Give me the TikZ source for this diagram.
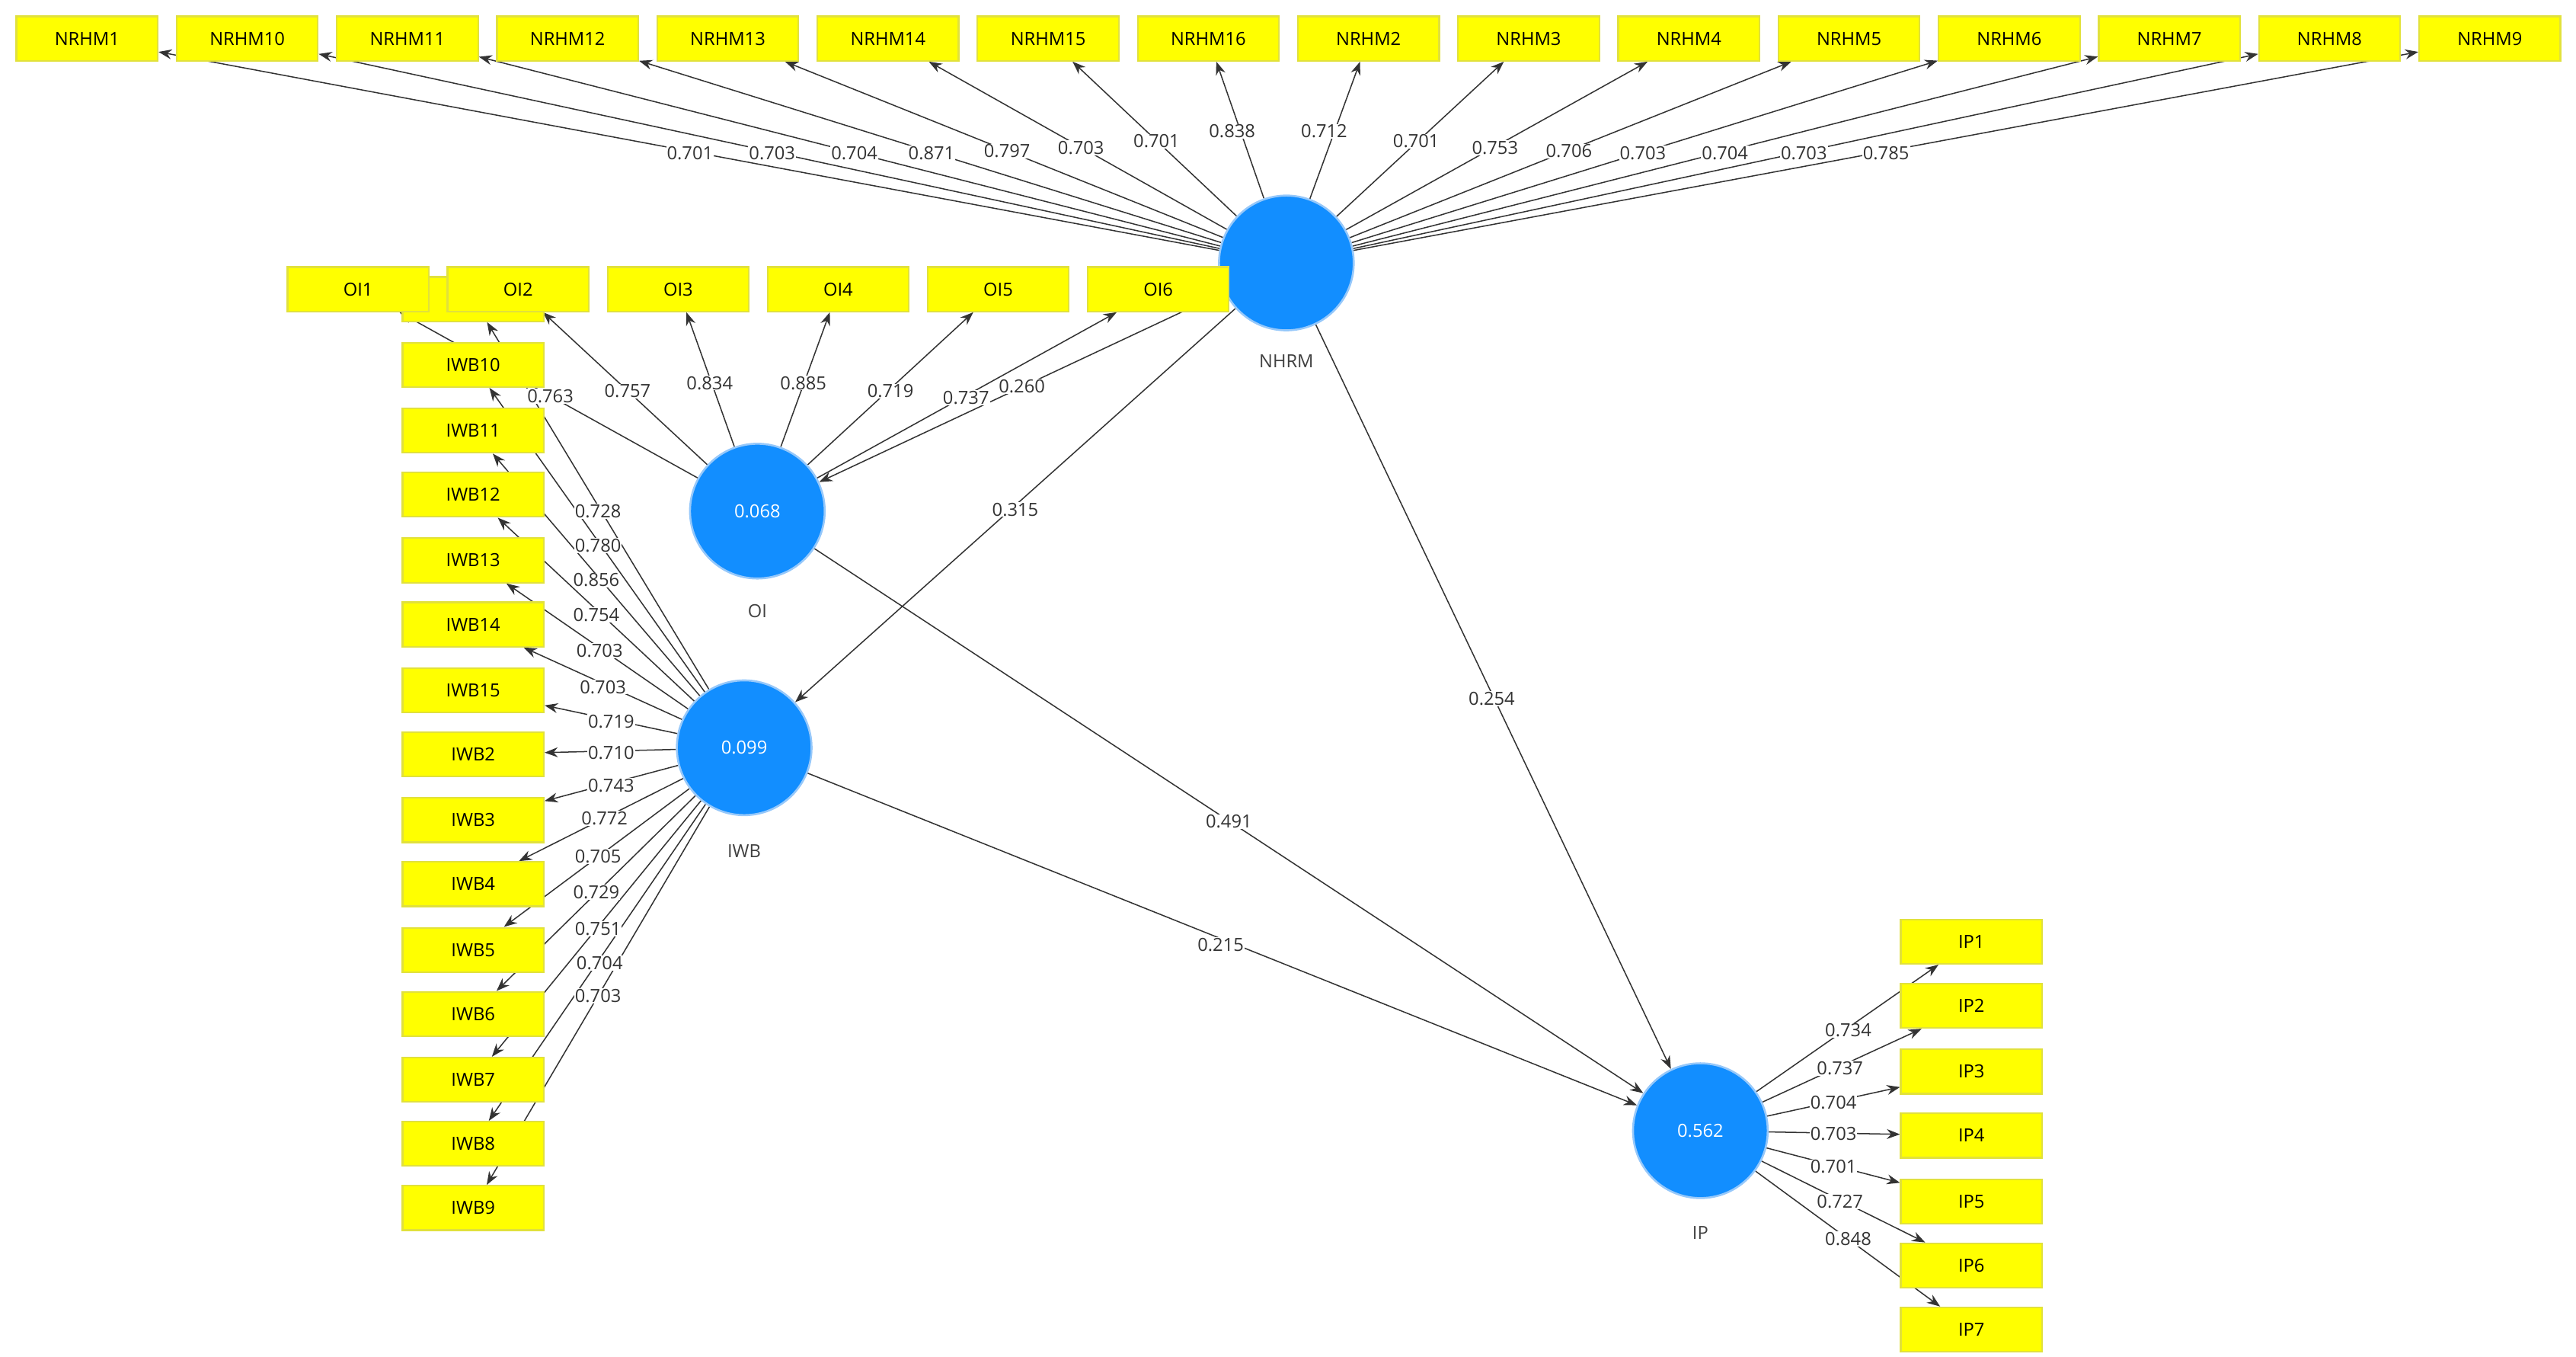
\documentclass[tikz,border=0pt]{standalone}
\usepackage{fontspec}
\setmainfont{Open Sans}
\usetikzlibrary{arrows.meta,backgrounds}
\definecolor{ybox}{RGB}{255,255,0}
\definecolor{yedge}{RGB}{225,225,60}
\definecolor{lvfill}{RGB}{18,142,255}
\definecolor{lvedge}{RGB}{150,200,250}
\begin{document}
\begin{tikzpicture}[x=1pt,y=-1pt,
  mv/.style={draw=yedge,line width=1pt,fill=ybox,minimum width=86pt,minimum height=27pt,inner sep=0pt,font=\fontsize{11}{12}\selectfont},
  lv/.style={circle,fill=lvfill,draw=lvedge,line width=1.2pt,minimum size=82pt,inner sep=0pt,text=white,font=\fontsize{11}{12}\selectfont},
  lab/.style={font=\fontsize{11}{12}\selectfont,text=black!75},
  ld/.style={fill=white,inner sep=0.5pt,font=\fontsize{11}{12}\selectfont,text=black!80},
  arr/.style={draw=black!80,line width=0.7pt,-{Stealth[length=8pt,width=6pt]}}]
\useasboundingbox (0,0) rectangle (1568,825.3);
% latent variables
\node[lv] (NHRM) at (783,160) {};
\node[lv] (OI) at (461,311) {0.068};
\node[lv] (IWB) at (453,455) {0.099};
\node[lv] (IP) at (1035,688) {0.562};
\node[lab] at (783,220) {NHRM};
\node[lab] at (461,372) {OI};
\node[lab] at (453,518) {IWB};
\node[lab] at (1035,750) {IP};
% NRHM indicators
\foreach \t [count=\i] in {NRHM1,NRHM10,NRHM11,NRHM12,NRHM13,NRHM14,NRHM15,NRHM16,NRHM2,NRHM3,NRHM4,NRHM5,NRHM6,NRHM7,NRHM8,NRHM9}
  \node[mv] (n\i) at ({53+97.5*(\i-1)},23.5) {\t};
% IWB1 (hidden) then OI indicators
\node[mv] (w1) at (288,182) {};
\foreach \t [count=\i] in {OI1,OI2,OI3,OI4,OI5,OI6}
  \node[mv] (o\i) at ({218+97.4*(\i-1)},176) {\t};
\foreach \t/\y [count=\i from 2] in {IWB10/222,IWB11/262,IWB12/301,IWB13/341,IWB14/380,IWB15/420,IWB2/459,IWB3/499,IWB4/538,IWB5/578,IWB6/617,IWB7/657,IWB8/696,IWB9/735}
  \node[mv] (w\i) at (288,\y) {\t};
\foreach \t/\y [count=\i] in {IP1/573,IP2/612,IP3/652,IP4/691,IP5/731,IP6/770,IP7/809}
  \node[mv] (p\i) at (1200,\y) {\t};
\begin{scope}[on background layer]
\foreach \i in {1,...,16} \draw[arr] (NHRM) -- (n\i);
\foreach \i in {1,...,6} \draw[arr] (OI) -- (o\i);
\foreach \i in {1,...,15} \draw[arr] (IWB) -- (w\i);
\foreach \i in {1,...,7} \draw[arr] (IP) -- (p\i);
\draw[arr] (NHRM) -- (OI);
\draw[arr] (NHRM) -- (IWB);
\draw[arr] (NHRM) -- (IP);
\draw[arr] (OI) -- (IP);
\draw[arr] (IWB) -- (IP);
\end{scope}
% loadings NRHM
\foreach \v/\x/\y in {0.701/420/93,0.703/470/93,0.704/520/93,0.871/567/93,0.797/613/92,0.703/658/90,0.701/704/86,0.838/750/80,0.712/806/80,0.701/862/86,0.753/910/90,0.706/955/92,0.703/1000/93,0.704/1050/93,0.703/1098/93,0.785/1148/93}
  \node[ld] at (\x,\y) {\v};
% loadings OI + structural
\foreach \v/\x/\y in {0.763/335/241,0.757/382/238,0.834/432/233,0.885/489/233,0.719/542/238,0.737/588/242,0.260/622/235,0.315/618/310,0.254/908/425,0.491/748/500,0.215/743/575}
  \node[ld] at (\x,\y) {\v};
% loadings IWB
\foreach \v/\x/\y in {0.728/364/311,0.780/364/332,0.856/363/353,0.754/363/374,0.703/365/396,0.703/367/418,0.719/372/439,0.710/372/458,0.743/372/478,0.772/368/498,0.705/364/521,0.729/363/543,0.751/364/565,0.704/365/586,0.703/364/606}
  \node[ld] at (\x,\y) {\v};
% loadings IP
\foreach \v/\x/\y in {0.734/1125/627,0.737/1120/650,0.704/1116/671,0.703/1116/690,0.701/1116/710,0.727/1120/731,0.848/1125/754}
  \node[ld] at (\x,\y) {\v};
\end{tikzpicture}
\end{document}
